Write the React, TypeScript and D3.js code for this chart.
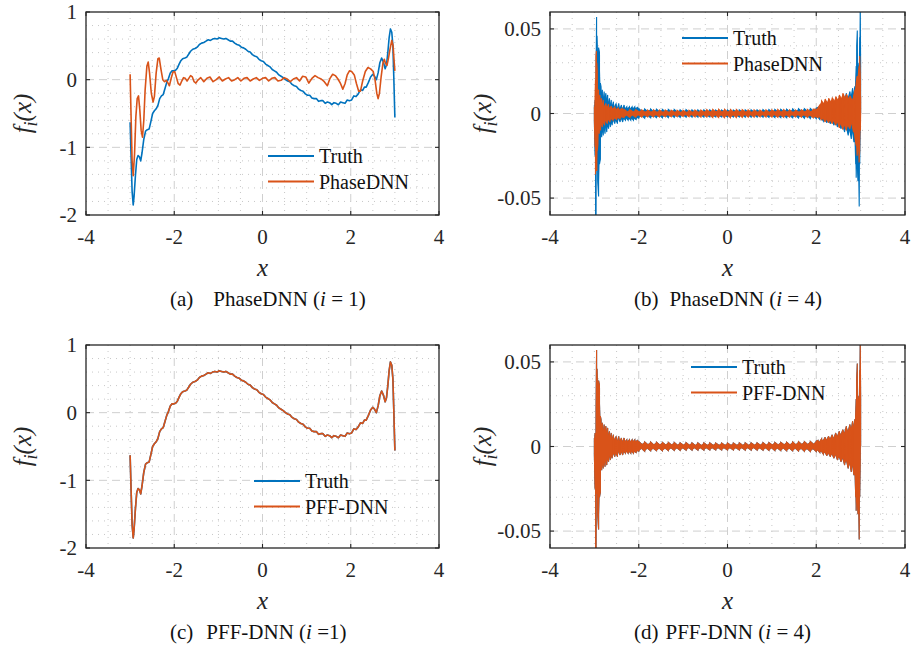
import React from 'react';
import * as d3 from 'd3';

// ---------- shared axis settings ----------
const xDomain: [number, number] = [-4, 4];
const xTicks = [-4, -2, 0, 2, 4];
const xTickLabels = ['-4', '-2', '0', '2', '4'];

const yDomainLow: [number, number] = [-2, 1];
const yTicksLow = [-2, -1, 0, 1];
const yTickLabelsLow = ['-2', '-1', '0', '1'];

const yDomainHigh: [number, number] = [-0.06, 0.06];
const yTicksHigh = [-0.05, 0, 0.05];
const yTickLabelsHigh = ['-0.05', '0', '0.05'];

// ---------- component i = 1 ----------
const truth1X = [
  -3.0, -2.98, -2.955, -2.93, -2.91, -2.88, -2.85, -2.82, -2.79, -2.76, -2.73, -2.69, -2.65, -2.61, -2.57,
  -2.53, -2.49, -2.45, -2.41, -2.37, -2.33, -2.29, -2.25, -2.21, -2.17, -2.13, -2.09, -2.05, -2.01, -1.97,
  -1.93, -1.89, -1.85, -1.81, -1.76, -1.72, -1.67, -1.63, -1.58, -1.53, -1.48, -1.43, -1.38, -1.33, -1.28,
  -1.23, -1.18, -1.13, -1.08, -1.03, -0.98, -0.93, -0.88, -0.83, -0.78, -0.73, -0.68, -0.63, -0.58, -0.53,
  -0.48, -0.43, -0.38, -0.33, -0.28, -0.23, -0.18, -0.13, -0.08, -0.03, 0.02, 0.07, 0.12, 0.17, 0.22,
  0.27, 0.32, 0.37, 0.42, 0.47, 0.52, 0.57, 0.62, 0.67, 0.72, 0.77, 0.82, 0.87, 0.92, 0.97,
  1.02, 1.07, 1.12, 1.17, 1.22, 1.27, 1.32, 1.37, 1.42, 1.47, 1.52, 1.57, 1.62, 1.67, 1.72,
  1.77, 1.82, 1.87, 1.92, 1.97, 2.02, 2.07, 2.12, 2.17, 2.22, 2.27, 2.31, 2.35, 2.4, 2.45,
  2.5, 2.54, 2.58, 2.62, 2.66, 2.7, 2.74, 2.78, 2.81, 2.84, 2.87, 2.9, 2.93, 2.955, 2.975, 3.0,
];
const truth1Y = [
  -0.63, -1.1, -1.65, -1.85, -1.72, -1.42, -1.18, -1.12, -1.14, -1.2, -1.08, -0.88, -0.76, -0.74, -0.73,
  -0.62, -0.5, -0.46, -0.43, -0.38, -0.28, -0.24, -0.22, -0.13, -0.04, 0.02, 0.1, 0.13, 0.13, 0.14,
  0.17, 0.23, 0.28, 0.31, 0.32, 0.33, 0.38, 0.42, 0.45, 0.46, 0.48, 0.52, 0.54, 0.55, 0.57,
  0.59, 0.58, 0.6, 0.61, 0.6, 0.62, 0.61, 0.6, 0.61, 0.59, 0.57, 0.57, 0.54, 0.52, 0.51,
  0.48, 0.47, 0.45, 0.42, 0.41, 0.37, 0.35, 0.34, 0.3, 0.28, 0.27, 0.23, 0.21, 0.19, 0.15,
  0.13, 0.11, 0.07, 0.05, 0.03, 0.0, -0.02, -0.03, -0.07, -0.09, -0.1, -0.14, -0.16, -0.17, -0.21,
  -0.23, -0.23, -0.27, -0.28, -0.28, -0.32, -0.31, -0.31, -0.35, -0.33, -0.34, -0.37, -0.34, -0.35, -0.37,
  -0.33, -0.34, -0.35, -0.3, -0.31, -0.3, -0.24, -0.25, -0.21, -0.15, -0.16, -0.11, -0.11, -0.04, 0.04,
  0.08, 0.05, 0.0, 0.1, 0.25, 0.32, 0.26, 0.16, 0.22, 0.4, 0.62, 0.75, 0.7, 0.5, 0.05, -0.56,
];

const phase1X = [
  -3.0, -2.98, -2.955, -2.93, -2.9, -2.87, -2.84, -2.81, -2.78, -2.75, -2.72, -2.69, -2.66, -2.62, -2.59,
  -2.56, -2.52, -2.48, -2.45, -2.41, -2.37, -2.34, -2.3, -2.26, -2.22, -2.18, -2.15, -2.11, -2.07, -2.03,
  -1.99, -1.95, -1.91, -1.87, -1.83, -1.79, -1.75, -1.71, -1.67, -1.63, -1.59, -1.55, -1.51, -1.47, -1.4,
  -1.33, -1.26, -1.19, -1.12, -1.05, -0.98, -0.91, -0.84, -0.77, -0.7, -0.63, -0.56, -0.49, -0.42, -0.35,
  -0.28, -0.21, -0.14, -0.07, 0.0, 0.07, 0.14, 0.21, 0.28, 0.35, 0.42, 0.49, 0.56, 0.63, 0.7,
  0.77, 0.84, 0.91, 0.98, 1.05, 1.12, 1.19, 1.26, 1.33, 1.4, 1.47, 1.53, 1.59, 1.65, 1.71,
  1.77, 1.82, 1.87, 1.92, 1.97, 2.02, 2.08, 2.13, 2.18, 2.22, 2.27, 2.33, 2.39, 2.45, 2.51,
  2.55, 2.59, 2.62, 2.65, 2.69, 2.73, 2.76, 2.79, 2.82, 2.85, 2.89, 2.93, 2.96, 2.98, 3.0,
];
const phase1Y = [
  0.08, -0.5, -1.2, -1.42, -1.1, -0.55, -0.28, -0.24, -0.45, -0.75, -0.85, -0.6, -0.15, 0.2, 0.26,
  0.1, -0.2, -0.33, -0.25, 0.1, 0.31, 0.32, 0.15, 0.0, -0.03, -0.01, -0.04, -0.09, 0.02, 0.11,
  0.12, 0.03, -0.06, -0.08, -0.02, 0.03, 0.02, -0.02, 0.02, 0.06, 0.04, -0.03, -0.05, -0.01, 0.03,
  -0.03, 0.02, 0.04, -0.03, 0.0, 0.04, -0.02, 0.01, 0.03, -0.02, 0.0, 0.03, -0.02, 0.02, 0.03,
  -0.02, 0.01, 0.03, -0.01, 0.02, 0.03, -0.02, 0.02, 0.03, -0.02, -0.01, 0.03, 0.01, -0.03, 0.01,
  0.03, -0.02, 0.05, 0.04, -0.05, 0.02, 0.06, 0.03, 0.01, -0.03, -0.09, 0.02, 0.08, 0.06, 0.01,
  -0.06, -0.14, -0.06, 0.07, 0.13, 0.12, 0.07, -0.06, -0.17, -0.17, -0.02, 0.12, 0.18, 0.16, 0.12,
  0.0, -0.2, -0.28, -0.2, 0.05, 0.25, 0.3, 0.24, 0.21, 0.3, 0.45, 0.58, 0.5, 0.3, 0.13,
];

// PFF-DNN reproduces the i = 1 target on top of it
const pff1X = truth1X;
const pff1Y = truth1Y;

// ---------- component i = 4: [x, lower envelope, upper envelope] ----------
const truth4Band: [number, number, number][] = [
  [-3.0, -0.005, 0.005], [-2.985, -0.025, 0.008], [-2.972, -0.066, 0.0], [-2.962, -0.06, 0.022],
  [-2.95, -0.018, 0.057], [-2.94, -0.028, 0.046], [-2.925, -0.04, 0.03], [-2.905, -0.049, 0.039],
  [-2.885, -0.03, 0.036], [-2.865, -0.027, 0.018], [-2.85, -0.01, 0.016], [-2.835, -0.014, 0.01],
  [-2.82, -0.009, 0.014], [-2.8, -0.013, 0.008], [-2.78, -0.008, 0.013], [-2.76, -0.012, 0.009],
  [-2.74, -0.007, 0.012], [-2.72, -0.011, 0.008], [-2.7, -0.007, 0.011], [-2.68, -0.009, 0.006],
  [-2.66, -0.005, 0.009], [-2.64, -0.008, 0.005], [-2.62, -0.005, 0.008], [-2.6, -0.007, 0.004],
  [-2.57, -0.004, 0.007], [-2.54, -0.006, 0.004], [-2.51, -0.004, 0.006], [-2.48, -0.006, 0.003],
  [-2.45, -0.003, 0.006], [-2.42, -0.005, 0.003], [-2.39, -0.003, 0.005], [-2.36, -0.005, 0.003],
  [-2.33, -0.003, 0.005], [-2.3, -0.004, 0.003], [-2.27, -0.003, 0.004], [-2.24, -0.004, 0.003],
  [-2.21, -0.003, 0.004], [-2.18, -0.004, 0.003], [-2.15, -0.003, 0.004], [-2.12, -0.004, 0.003],
  [-2.09, -0.003, 0.004], [-2.06, -0.0035, 0.003], [-2.03, -0.0025, 0.0035],
  [-2.0, -0.0028, 0.003], [-1.933, -0.0012, 0.0013], [-1.867, -0.0028, 0.0027], [-1.8, -0.0011, 0.0012],
  [-1.733, -0.0026, 0.0027], [-1.667, -0.0011, 0.0011], [-1.6, -0.0025, 0.0026], [-1.533, -0.001, 0.0011],
  [-1.467, -0.0025, 0.0024], [-1.4, -0.001, 0.001], [-1.333, -0.0024, 0.0024], [-1.267, -0.0009, 0.001],
  [-1.2, -0.0023, 0.0024], [-1.133, -0.0009, 0.0009], [-1.067, -0.0023, 0.0022], [-1.0, -0.0009, 0.0009],
  [-0.933, -0.0022, 0.0023], [-0.867, -0.0008, 0.0009], [-0.8, -0.0022, 0.0022], [-0.733, -0.0008, 0.0008],
  [-0.667, -0.0021, 0.0022], [-0.6, -0.0008, 0.0008], [-0.533, -0.0021, 0.0021], [-0.467, -0.0008, 0.0008],
  [-0.4, -0.002, 0.0021], [-0.333, -0.0008, 0.0008], [-0.267, -0.002, 0.002], [-0.2, -0.0008, 0.0008],
  [-0.133, -0.002, 0.002], [-0.067, -0.0008, 0.0008], [0.0, -0.002, 0.002], [0.067, -0.0008, 0.0008],
  [0.133, -0.002, 0.002], [0.2, -0.0008, 0.0008], [0.267, -0.002, 0.0021], [0.333, -0.0008, 0.0008],
  [0.4, -0.0021, 0.0021], [0.467, -0.0008, 0.0008], [0.533, -0.0021, 0.0022], [0.6, -0.0008, 0.0009],
  [0.667, -0.0022, 0.0022], [0.733, -0.0009, 0.0009], [0.8, -0.0022, 0.0023], [0.867, -0.0009, 0.0009],
  [0.933, -0.0023, 0.0023], [1.0, -0.0009, 0.001], [1.067, -0.0024, 0.0024], [1.133, -0.001, 0.001],
  [1.2, -0.0024, 0.0025], [1.267, -0.001, 0.0011], [1.333, -0.0025, 0.0026], [1.4, -0.0011, 0.0011],
  [1.467, -0.0026, 0.0027], [1.533, -0.0011, 0.0012], [1.6, -0.0027, 0.0028], [1.667, -0.0012, 0.0013],
  [1.733, -0.0028, 0.0029], [1.8, -0.0013, 0.0014], [1.867, -0.003, 0.003], [1.933, -0.0014, 0.0015],
  [2.0, -0.003, 0.0032], [2.04, -0.0022, 0.0036], [2.08, -0.0035, 0.0028], [2.12, -0.0028, 0.0045],
  [2.16, -0.0045, 0.0035], [2.2, -0.0035, 0.0055], [2.24, -0.0055, 0.004], [2.28, -0.004, 0.006],
  [2.32, -0.006, 0.0045], [2.36, -0.0045, 0.007], [2.4, -0.007, 0.005], [2.44, -0.005, 0.008],
  [2.48, -0.008, 0.006], [2.52, -0.006, 0.009], [2.56, -0.009, 0.007], [2.6, -0.007, 0.01],
  [2.64, -0.011, 0.008], [2.68, -0.008, 0.012], [2.72, -0.013, 0.009], [2.76, -0.01, 0.013],
  [2.79, -0.015, 0.01], [2.82, -0.011, 0.015], [2.85, -0.017, 0.012], [2.87, -0.012, 0.016],
  [2.89, -0.03, 0.02], [2.9, -0.038, 0.028], [2.912, -0.02, 0.04], [2.925, -0.03, 0.049],
  [2.94, -0.04, 0.03], [2.955, -0.03, 0.025], [2.968, -0.055, 0.02], [2.98, -0.03, 0.045],
  [2.99, -0.01, 0.066], [3.0, 0.0, 0.03],
];

const phase4Band: [number, number, number][] = [
  [-3.0, -0.004, 0.004], [-2.985, -0.02, 0.01], [-2.975, -0.036, 0.02], [-2.965, -0.03, 0.034],
  [-2.955, -0.025, 0.037], [-2.945, -0.034, 0.03], [-2.935, -0.022, 0.025], [-2.92, -0.018, 0.013],
  [-2.905, -0.009, 0.014], [-2.89, -0.012, 0.008], [-2.875, -0.007, 0.011], [-2.86, -0.01, 0.006],
  [-2.84, -0.006, 0.009], [-2.82, -0.008, 0.005], [-2.8, -0.005, 0.008], [-2.77, -0.007, 0.004],
  [-2.74, -0.004, 0.006], [-2.71, -0.006, 0.0035], [-2.68, -0.0035, 0.0055], [-2.65, -0.005, 0.003],
  [-2.62, -0.003, 0.0045], [-2.58, -0.004, 0.0028], [-2.54, -0.0028, 0.0038], [-2.5, -0.0035, 0.0025],
  [-2.46, -0.0025, 0.0032], [-2.42, -0.003, 0.0022], [-2.38, -0.002, 0.003],
  [-2.333, -0.0024, 0.0024], [-2.267, -0.001, 0.0011], [-2.2, -0.0023, 0.0023], [-2.133, -0.001, 0.001],
  [-2.067, -0.0022, 0.0023], [-2.0, -0.0009, 0.001], [-1.933, -0.0022, 0.0022], [-1.867, -0.0009, 0.0009],
  [-1.8, -0.0021, 0.0021], [-1.733, -0.0008, 0.0009], [-1.667, -0.002, 0.0021], [-1.6, -0.0008, 0.0008],
  [-1.533, -0.002, 0.002], [-1.467, -0.0008, 0.0008], [-1.4, -0.0019, 0.002], [-1.333, -0.0008, 0.0008],
  [-1.267, -0.0019, 0.0019], [-1.2, -0.0007, 0.0008], [-1.133, -0.0019, 0.0019], [-1.067, -0.0007, 0.0007],
  [-1.0, -0.0018, 0.0019], [-0.933, -0.0007, 0.0007], [-0.867, -0.0019, 0.0019], [-0.8, -0.0007, 0.0008],
  [-0.733, -0.002, 0.002], [-0.667, -0.0008, 0.0008], [-0.6, -0.0021, 0.0021], [-0.533, -0.0008, 0.0009],
  [-0.467, -0.0022, 0.0023], [-0.4, -0.0009, 0.0009], [-0.333, -0.0024, 0.0024], [-0.267, -0.0009, 0.001],
  [-0.2, -0.0024, 0.0025], [-0.133, -0.0009, 0.0009], [-0.067, -0.0025, 0.0025], [0.0, -0.0009, 0.0009],
  [0.067, -0.0025, 0.0024], [0.133, -0.0009, 0.0009], [0.2, -0.0024, 0.0024], [0.267, -0.0009, 0.0009],
  [0.333, -0.0023, 0.0023], [0.4, -0.0008, 0.0009], [0.467, -0.0022, 0.0022], [0.533, -0.0008, 0.0008],
  [0.6, -0.0021, 0.0021], [0.667, -0.0007, 0.0008], [0.733, -0.002, 0.002], [0.8, -0.0007, 0.0007],
  [0.867, -0.0021, 0.0021], [0.933, -0.0008, 0.0008], [1.0, -0.0022, 0.0022], [1.067, -0.0008, 0.0009],
  [1.133, -0.0023, 0.0024], [1.2, -0.0009, 0.0009], [1.267, -0.0023, 0.0023], [1.333, -0.0008, 0.0009],
  [1.4, -0.0021, 0.0022], [1.467, -0.0008, 0.0008], [1.533, -0.002, 0.0021], [1.6, -0.0008, 0.0009],
  [1.667, -0.0021, 0.0022], [1.733, -0.0009, 0.001], [1.8, -0.0023, 0.0024], [1.867, -0.001, 0.0011],
  [1.933, -0.0025, 0.0026],
  [2.0, -0.002, 0.0025], [2.04, -0.0025, 0.0035], [2.08, -0.002, 0.005], [2.12, -0.004, 0.0075],
  [2.16, -0.003, 0.006], [2.2, -0.005, 0.0085], [2.24, -0.0035, 0.0065], [2.28, -0.0055, 0.009],
  [2.32, -0.004, 0.007], [2.36, -0.006, 0.0095], [2.4, -0.0045, 0.0075], [2.44, -0.007, 0.01],
  [2.48, -0.005, 0.008], [2.52, -0.0085, 0.011], [2.56, -0.006, 0.009], [2.6, -0.0095, 0.012],
  [2.64, -0.007, 0.0095], [2.68, -0.01, 0.0115], [2.72, -0.007, 0.009], [2.76, -0.009, 0.0105],
  [2.8, -0.006, 0.008], [2.84, -0.011, 0.01], [2.87, -0.014, 0.014], [2.9, -0.019, 0.018],
  [2.92, -0.025, 0.022], [2.945, -0.02, 0.022], [2.965, -0.029, 0.028], [2.98, -0.022, 0.034],
  [2.995, -0.01, 0.02], [3.0, 0.0, 0.01],
];

// PFF-DNN reproduces the i = 4 target on top of it
const pff4Band = truth4Band;

const BLUE = '#0072BD';
const ORANGE = '#D95319';
const FONT = "'Liberation Serif', 'Times New Roman', serif";

type Box = { l: number; r: number; t: number; b: number };
type LineSeries = { xs: number[]; ys: number[]; color: string };
type BandSeries = { rows: [number, number, number][]; color: string };

interface PanelProps {
  id: string;
  box: Box;
  yDomain: [number, number];
  yTicks: number[];
  yTickLabels: string[];
  yMinorStep: number;
  lines?: LineSeries[];
  bands?: BandSeries[];
  legendLabels: string[];
  legendAt: [number, number];
  yLabelX: number;
  caption: { tag: string; gap: number; name: string; eq: string };
}

function Panel(p: PanelProps) {
  const { box } = p;
  const x = d3.scaleLinear().domain(xDomain).range([box.l, box.r]);
  const y = d3.scaleLinear().domain(p.yDomain).range([box.b, box.t]);

  const xMinor = d3
    .range(-8, 9)
    .map((k) => k * 0.5)
    .filter((v) => v > xDomain[0] && v < xDomain[1] && Math.abs(v % 2) > 1e-9);
  const nY = Math.round((p.yDomain[1] - p.yDomain[0]) / p.yMinorStep);
  const yMinor = d3
    .range(1, nY)
    .map((k) => +(p.yDomain[0] + k * p.yMinorStep).toFixed(6))
    .filter((v) => !p.yTicks.some((t) => Math.abs(t - v) < p.yMinorStep * 0.1));

  const mkLine = (s: LineSeries) =>
    d3
      .line<number>()
      .x((d) => x(d))
      .y((_, i) => y(s.ys[i]))(s.xs) || '';

  // fast oscillation: fill of the envelope plus a stroke swinging between its bounds
  const band = d3
    .area<[number, number, number]>()
    .x((d) => x(d[0]))
    .y0((d) => y(d[1]))
    .y1((d) => y(d[2]));
  const swing = d3
    .line<[number, number]>()
    .x((d) => x(d[0]))
    .y((d) => y(d[1]));
  const swingPoints = (rows: [number, number, number][]) =>
    rows.flatMap((r, i) =>
      i % 2 === 0
        ? ([[r[0], r[2]], [r[0], r[1]]] as [number, number][])
        : ([[r[0], r[1]], [r[0], r[2]]] as [number, number][])
    );

  const tickLen = 4;
  const gridMajor = '#cfcfcf';
  const gridMinor = '#b9b9b9';
  const axisColor = '#262626';
  const colors = [BLUE, ORANGE];
  const cy = (box.t + box.b) / 2;

  return (
    <g>
      <defs>
        <clipPath id={`clip-${p.id}`}>
          <rect x={box.l} y={box.t} width={box.r - box.l} height={box.b - box.t} />
        </clipPath>
      </defs>
      <rect x={box.l} y={box.t} width={box.r - box.l} height={box.b - box.t} fill="#ffffff" />
      {/* minor grid */}
      <g stroke={gridMinor} strokeWidth={0.8} strokeDasharray="1,5">
        {xMinor.map((v) => (
          <line key={`xm${v}`} x1={x(v)} x2={x(v)} y1={box.t} y2={box.b} />
        ))}
        {yMinor.map((v) => (
          <line key={`ym${v}`} x1={box.l} x2={box.r} y1={y(v)} y2={y(v)} />
        ))}
      </g>
      {/* major grid */}
      <g stroke={gridMajor} strokeWidth={1} strokeDasharray="8,5">
        {xTicks.slice(1, -1).map((v) => (
          <line key={`xg${v}`} x1={x(v)} x2={x(v)} y1={box.t} y2={box.b} />
        ))}
        {p.yTicks
          .filter((v) => y(v) > box.t + 1 && y(v) < box.b - 1)
          .map((v) => (
            <line key={`yg${v}`} x1={box.l} x2={box.r} y1={y(v)} y2={y(v)} />
          ))}
      </g>
      {/* data */}
      <g clipPath={`url(#clip-${p.id})`}>
        {(p.bands || []).map((s, i) => (
          <g key={`b${i}`}>
            <path d={band(s.rows) || ''} fill={s.color} stroke="none" />
            <path d={swing(swingPoints(s.rows)) || ''} fill="none" stroke={s.color} strokeWidth={1.1} strokeLinejoin="miter" />
          </g>
        ))}
        {(p.lines || []).map((s, i) => (
          <path key={`l${i}`} d={mkLine(s)} fill="none" stroke={s.color} strokeWidth={1.6} strokeLinejoin="round" />
        ))}
      </g>
      {/* box and ticks */}
      <rect x={box.l} y={box.t} width={box.r - box.l} height={box.b - box.t} fill="none" stroke={axisColor} strokeWidth={1.3} />
      <g stroke={axisColor} strokeWidth={1.1}>
        {xTicks.map((v) => (
          <g key={`xt${v}`}>
            <line x1={x(v)} x2={x(v)} y1={box.b} y2={box.b - tickLen} />
            <line x1={x(v)} x2={x(v)} y1={box.t} y2={box.t + tickLen} />
          </g>
        ))}
        {p.yTicks.map((v) => (
          <g key={`yt${v}`}>
            <line x1={box.l} x2={box.l + tickLen} y1={y(v)} y2={y(v)} />
            <line x1={box.r} x2={box.r - tickLen} y1={y(v)} y2={y(v)} />
          </g>
        ))}
      </g>
      {/* tick labels */}
      <g fontFamily={FONT} fontSize={21} fill="#262626">
        {xTicks.map((v, i) => (
          <text key={`xl${v}`} x={x(v)} y={box.b + 29} textAnchor="middle">
            {xTickLabels[i]}
          </text>
        ))}
        {p.yTicks.map((v, i) => (
          <text key={`yl${v}`} x={box.l - 9} y={y(v)} dy="0.35em" textAnchor="end">
            {p.yTickLabels[i]}
          </text>
        ))}
      </g>
      {/* axis labels */}
      <text x={(box.l + box.r) / 2} y={box.b + 61} textAnchor="middle" fontFamily={FONT} fontSize={25} fontStyle="italic" fill="#262626">
        x
      </text>
      <text
        transform={`translate(${p.yLabelX},${cy}) rotate(-90)`}
        textAnchor="middle"
        fontFamily={FONT}
        fontSize={25}
        fontStyle="italic"
        fill="#262626"
      >
        f
        <tspan dy={6} fontSize={18}>
          i
        </tspan>
        <tspan dy={-6}>(x)</tspan>
      </text>
      {/* legend */}
      <g fontFamily={FONT} fontSize={20} fill="#111">
        {p.legendLabels.map((lab, i) => {
          const ly = p.legendAt[1] + i * 25.5;
          return (
            <g key={lab}>
              <line x1={p.legendAt[0]} x2={p.legendAt[0] + 46} y1={ly} y2={ly} stroke={colors[i]} strokeWidth={1.8} />
              <text x={p.legendAt[0] + 51} y={ly + 7}>
                {lab}
              </text>
            </g>
          );
        })}
      </g>
      {/* caption */}
      <text x={box.l + 84} y={box.b + 91} fontFamily={FONT} fontSize={21} fill="#111">
        {p.caption.tag}
        <tspan dx={p.caption.gap}>{p.caption.name} (</tspan>
        <tspan fontStyle="italic">i</tspan>
        <tspan>{p.caption.eq})</tspan>
      </text>
    </g>
  );
}

export default function App() {
  return (
    <svg
      width={914}
      height={654}
      viewBox="0 0 914 654"
      style={{ position: 'absolute', left: 0, top: 0, background: '#ffffff' }}
    >
      <rect width={914} height={654} fill="#ffffff" />
      <Panel
        id="a"
        box={{ l: 86, r: 439, t: 12, b: 215 }}
        yDomain={yDomainLow}
        yTicks={yTicksLow}
        yTickLabels={yTickLabelsLow}
        yMinorStep={0.2}
        lines={[
          { xs: truth1X, ys: truth1Y, color: BLUE },
          { xs: phase1X, ys: phase1Y, color: ORANGE },
        ]}
        legendLabels={['Truth', 'PhaseDNN']}
        legendAt={[268, 156]}
        yLabelX={31}
        caption={{ tag: '(a)', gap: 20, name: 'PhaseDNN', eq: ' = 1' }}
      />
      <Panel
        id="b"
        box={{ l: 550, r: 905, t: 12, b: 215 }}
        yDomain={yDomainHigh}
        yTicks={yTicksHigh}
        yTickLabels={yTickLabelsHigh}
        yMinorStep={0.01}
        bands={[
          { rows: truth4Band, color: BLUE },
          { rows: phase4Band, color: ORANGE },
        ]}
        legendLabels={['Truth', 'PhaseDNN']}
        legendAt={[682, 38]}
        yLabelX={491}
        caption={{ tag: '(b)', gap: 11, name: 'PhaseDNN', eq: ' = 4' }}
      />
      <Panel
        id="c"
        box={{ l: 86, r: 439, t: 345, b: 548 }}
        yDomain={yDomainLow}
        yTicks={yTicksLow}
        yTickLabels={yTickLabelsLow}
        yMinorStep={0.2}
        lines={[
          { xs: truth1X, ys: truth1Y, color: BLUE },
          { xs: pff1X, ys: pff1Y, color: ORANGE },
        ]}
        legendLabels={['Truth', 'PFF-DNN']}
        legendAt={[254, 481]}
        yLabelX={31}
        caption={{ tag: '(c)', gap: 13, name: 'PFF-DNN', eq: ' =1' }}
      />
      <Panel
        id="d"
        box={{ l: 550, r: 905, t: 345, b: 548 }}
        yDomain={yDomainHigh}
        yTicks={yTicksHigh}
        yTickLabels={yTickLabelsHigh}
        yMinorStep={0.01}
        bands={[
          { rows: truth4Band, color: BLUE },
          { rows: pff4Band, color: ORANGE },
        ]}
        legendLabels={['Truth', 'PFF-DNN']}
        legendAt={[691, 367]}
        yLabelX={491}
        caption={{ tag: '(d)', gap: 7, name: 'PFF-DNN', eq: ' = 4' }}
      />
    </svg>
  );
}
